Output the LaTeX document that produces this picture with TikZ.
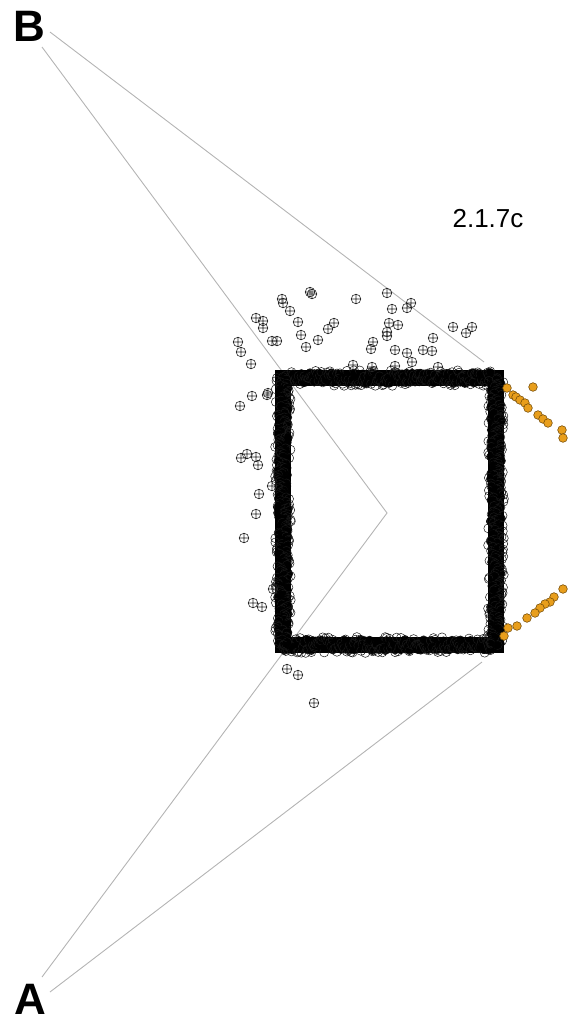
\documentclass[tikz,border=0pt]{standalone}
\usepackage{fontspec}
\setmainfont{Liberation Sans}
\definecolor{ptfill}{RGB}{232,158,28}
\definecolor{ptline}{RGB}{120,80,10}
\definecolor{linkgray}{RGB}{180,180,180}
\begin{document}
\begin{tikzpicture}[x=1pt,y=-1pt,
  link/.style={draw=linkgray, line width=0.9pt},
  mk/.style={draw=black!85, line width=0.6pt},
  orpt/.style={fill=ptfill, draw=ptline, line width=0.6pt},
  letter/.style={font=\bfseries\fontsize{44}{44}\selectfont, inner sep=0pt, anchor=base},
  oplus/.pic={\draw[mk] (0,0) circle (4.8) (-4.8,0) -- (4.8,0) (0,-4.8) -- (0,4.8);}]
\useasboundingbox (0,0) rectangle (575,1023);
% labels
\node[letter] (B) at (29,41) {B};
\node[letter] (A) at (30,1014) {A};
\node[font=\fontsize{26}{26}\selectfont, inner sep=0pt, anchor=base] (lbl) at (488,227) {2.1.7c};
% connector points
\coordinate (bT) at (50,32);
\coordinate (bL) at (42,47);
\coordinate (apex) at (387,513);
\coordinate (aL) at (42,977);
\coordinate (aR) at (50,992);
\coordinate (cTR) at (484,362);
\coordinate (cBR) at (482,662);
\draw[link] (bT) -- (cTR);
\draw[link] (bL) -- (apex) -- (aL);
\draw[link] (aR) -- (cBR);
% thick fuzzy rectangle
\draw[line width=16pt, line join=miter] (283,378) rectangle (496,645);
\pgfmathsetseed{7}
\foreach \i in {0,...,150}{
  \pgfmathsetmacro\xx{283+\i*1.42}
  \pgfmathsetmacro\dc{8*rand}
  \pgfmathsetmacro\dd{8*rand}
  \draw[black!90, line width=0.5pt] (\xx,378+\dc) circle (4.5);
  \draw[black!90, line width=0.5pt] (\xx,645+\dd) circle (4.5);
  \pgfmathsetmacro\da{6*rand}
  \pgfmathsetmacro\db{6*rand}
  \fill[black, opacity=.9] (\xx,378+\da) circle (4);
  \fill[black, opacity=.9] (\xx,645+\db) circle (4);
}
\foreach \i in {0,...,190}{
  \pgfmathsetmacro\yy{378+\i*1.4053}
  \pgfmathsetmacro\dc{8*rand}
  \pgfmathsetmacro\dd{8*rand}
  \draw[black!90, line width=0.5pt] (283+\dc,\yy) circle (4.5);
  \draw[black!90, line width=0.5pt] (496+\dd,\yy) circle (4.5);
  \pgfmathsetmacro\da{6*rand}
  \pgfmathsetmacro\db{6*rand}
  \fill[black, opacity=.9] (283+\da,\yy) circle (4);
  \fill[black, opacity=.9] (496+\db,\yy) circle (4);
}
% scattered cross markers
\foreach \p in {(310,292),(312,294),(282,299),(283,303),(290,311),(256,318),(263,321),(263,328),(298,322),(356,299),(387,293),(411,303),(407,308),(392,309),(334,323),(328,329),(389,323),(398,325),(387,332),(387,336),(301,335),(272,341),(277,341),(318,340),(306,347),(373,342),(371,349),(238,342),(241,352),(251,364),(395,350),(407,353),(412,362),(423,350),(432,351),(433,338),(453,327),(472,327),(466,333),(353,365),(372,367),(395,366),(438,367),(252,396),(240,406),(268,393),(267,395),(247,454),(241,458),(256,457),(258,465),(272,486),(259,494),(256,514),(244,538),(253,603),(262,607),(273,589),(287,669),(298,675),(314,703)}
  \pic at \p {oplus};
% orange points
\foreach \p in {(507,388),(533,387),(513,395),(516,397),(520,400),(525,403),(528,408),(538,415),(543,419),(548,423),(562,430),(563,438),(563,589),(554,597),(550,602),(545,604),(540,608),(535,613),(527,618),(517,626),(508,628),(504,636)}
  \draw[orpt] \p circle (4.3);
\end{tikzpicture}
\end{document}
